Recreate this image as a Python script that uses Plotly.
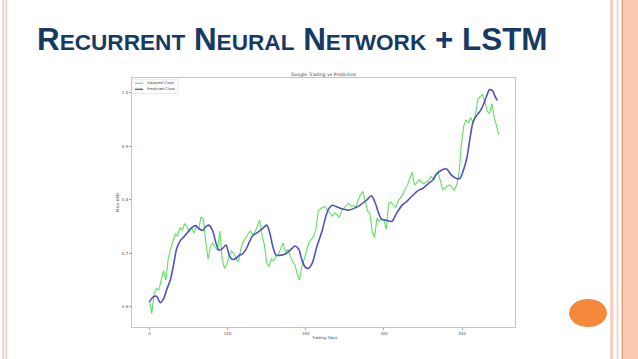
import plotly.graph_objects as go

W, H = 638, 359

# ---------------- data ----------------
green_days = list(range(0, 450, 3))
adjusted_close = [
    0.612, 0.588, 0.625, 0.635, 0.632, 0.652, 0.668, 0.650, 0.690, 0.708,
    0.722, 0.736, 0.733, 0.748, 0.744, 0.756, 0.750, 0.740, 0.748, 0.738,
    0.752, 0.745, 0.768, 0.764, 0.722, 0.690, 0.712, 0.720, 0.712, 0.706,
    0.742, 0.690, 0.672, 0.680, 0.696, 0.705, 0.700, 0.690, 0.684, 0.710,
    0.722, 0.730, 0.736, 0.742, 0.735, 0.740, 0.750, 0.762, 0.735, 0.716,
    0.682, 0.676, 0.690, 0.686, 0.694, 0.698, 0.710, 0.720, 0.702, 0.708,
    0.696, 0.684, 0.680, 0.662, 0.650, 0.676, 0.690, 0.706, 0.720, 0.726,
    0.732, 0.745, 0.780, 0.784, 0.786, 0.788, 0.780, 0.776, 0.770, 0.776,
    0.772, 0.768, 0.780, 0.786, 0.790, 0.794, 0.788, 0.790, 0.786, 0.800,
    0.810, 0.816, 0.798, 0.780, 0.774, 0.740, 0.730, 0.766, 0.760, 0.765,
    0.762, 0.745, 0.794, 0.796, 0.790, 0.786, 0.798, 0.804, 0.810, 0.820,
    0.828, 0.840, 0.852, 0.828, 0.832, 0.838, 0.833, 0.830, 0.834, 0.836,
    0.844, 0.840, 0.848, 0.853, 0.836, 0.820, 0.822, 0.826, 0.828, 0.822,
    0.818, 0.828, 0.850, 0.905, 0.938, 0.950, 0.944, 0.954, 0.944, 0.960,
    0.988, 0.993, 0.997, 0.984, 0.966, 0.962, 0.980, 0.955, 0.940, 0.922,
]

blue_days = [
    0, 5, 9, 14, 18, 22, 27, 31, 35, 40, 44, 48, 53, 59, 63, 68, 72, 76, 81, 85,
    89, 94, 98, 102, 106, 111, 115, 119, 124, 128, 132, 139, 145, 150, 154, 158,
    162, 169, 175, 182, 186, 191, 195, 199, 203, 208, 214, 221, 225, 229, 234,
    240, 247, 255, 264, 270, 278, 284, 289, 293, 297, 303, 310, 316, 323, 329,
    335, 344, 350, 357, 363, 367, 374, 380, 386, 393, 397, 401, 406, 410, 414,
    419, 423, 427, 431, 435, 439, 442, 445,
]
predicted_close = [
    0.610, 0.619, 0.620, 0.608, 0.615, 0.632, 0.652, 0.680, 0.710, 0.725,
    0.731, 0.738, 0.747, 0.752, 0.747, 0.743, 0.750, 0.753, 0.742, 0.720,
    0.706, 0.710, 0.716, 0.697, 0.689, 0.691, 0.697, 0.699, 0.709, 0.722,
    0.733, 0.740, 0.747, 0.753, 0.738, 0.712, 0.697, 0.697, 0.700, 0.709,
    0.714, 0.708, 0.688, 0.675, 0.672, 0.681, 0.712, 0.743, 0.766, 0.783,
    0.790, 0.787, 0.783, 0.781, 0.786, 0.791, 0.800, 0.808, 0.794, 0.776,
    0.764, 0.762, 0.760, 0.775, 0.790, 0.797, 0.806, 0.818, 0.822, 0.831,
    0.838, 0.848, 0.856, 0.858, 0.847, 0.840, 0.840, 0.853, 0.878, 0.915,
    0.946, 0.959, 0.966, 0.978, 0.993, 1.006, 1.004, 0.994, 0.986,
]

x_ticks = [0, 100, 200, 300, 400]
y_ticks = [0.6, 0.7, 0.8, 0.9, 1.0]
y_tick_labels = ["0.6", "0.7", "0.8", "0.9", "1.0"]

series_names = ["Adjusted Close", "Predicted Close"]
series_colors = ["#5fe05f", "#5050c6"]

# ---------------- helpers for slide coordinates ----------------
def px(x):
    return x / W

def py(y):
    return 1 - y / H

GREEN, BLUE = series_colors
NAVY = "#173a64"
CHART_FONT = "DejaVu Sans"

fig = go.Figure()
fig.add_trace(go.Scatter(x=green_days, y=adjusted_close, mode="lines",
                         name=series_names[0],
                         line=dict(color=GREEN, width=1.1), showlegend=False))
fig.add_trace(go.Scatter(x=blue_days, y=predicted_close, mode="lines",
                         name=series_names[1],
                         line=dict(color=BLUE, width=1.6, shape="spline", smoothing=0.8),
                         showlegend=False))

# plot frame (px): left 132, right 515, top 78, bottom 327
fig.update_layout(
    width=W, height=H,
    margin=dict(l=0, r=0, t=0, b=0),
    paper_bgcolor="white", plot_bgcolor="white",
    xaxis=dict(domain=[px(132), px(515)], range=[-22.3, 467.6],
               tickvals=x_ticks, ticktext=[str(v) for v in x_ticks],
               showgrid=False, zeroline=False,
               showline=True, mirror=True, linecolor="#c4c4c4", linewidth=1,
               ticks="outside", ticklen=2, tickcolor="#aaaaaa",
               tickfont=dict(family=CHART_FONT, size=4, color="#555555")),
    yaxis=dict(domain=[py(327), py(78)], range=[0.5626, 1.028],
               tickvals=y_ticks, ticktext=y_tick_labels,
               showgrid=False, zeroline=False,
               showline=True, mirror=True, linecolor="#c4c4c4", linewidth=1,
               ticks="outside", ticklen=2, tickcolor="#aaaaaa",
               tickfont=dict(family=CHART_FONT, size=4, color="#555555")),
)

shapes = []
# left border lines
for x0, x1, c in [(2.5, 4, "#f2c9b6"), (5.5, 7, "#f2c9b6")]:
    shapes.append(dict(type="rect", xref="paper", yref="paper",
                       x0=px(x0), x1=px(x1), y0=0, y1=1,
                       fillcolor=c, line=dict(width=0), layer="above"))
# right border
for x0, x1, c in [(610, 613.5, "#f3d2c4"), (616.5, 618.5, "#f6d8cb"),
                  (621.5, 623, "#e8a27e"), (623, 638, "#fdc8b0")]:
    shapes.append(dict(type="rect", xref="paper", yref="paper",
                       x0=px(x0), x1=px(x1), y0=0, y1=1,
                       fillcolor=c, line=dict(width=0), layer="above"))
# orange circle
shapes.append(dict(type="circle", xref="paper", yref="paper",
                   x0=px(569), x1=px(607), y0=py(327), y1=py(299),
                   fillcolor="#f5883a", line=dict(width=0)))
# legend frame and handles
shapes.append(dict(type="rect", xref="paper", yref="paper",
                   x0=px(133), x1=px(178), y0=py(93.5), y1=py(79.5),
                   fillcolor="rgba(255,255,255,0.8)",
                   line=dict(color="#dddddd", width=0.6)))
shapes.append(dict(type="line", xref="paper", yref="paper",
                   x0=px(135), x1=px(143), y0=py(83.3), y1=py(83.3),
                   line=dict(color=GREEN, width=1.1)))
shapes.append(dict(type="line", xref="paper", yref="paper",
                   x0=px(135), x1=px(143), y0=py(89.3), y1=py(89.3),
                   line=dict(color=BLUE, width=1.3)))
fig.update_layout(shapes=shapes)

small = "font-size:22.6px"
title_html = ("<b>R<span style='%s'>ECURRENT</span> N<span style='%s'>EURAL</span> "
              "N<span style='%s'>ETWORK</span> + LSTM</b>") % (small, small, small)

annotations = [
    dict(text=title_html, xref="paper", yref="paper", x=px(35), y=py(39),
         xanchor="left", yanchor="middle", showarrow=False,
         font=dict(family="Liberation Sans", size=31.4, color=NAVY)),
    dict(text="Google Trading vs Prediction", xref="paper", yref="paper",
         x=px(323.5), y=py(75), xanchor="center", yanchor="middle", showarrow=False,
         font=dict(family=CHART_FONT, size=4.6, color="#444444")),
    dict(text="Trading Days", xref="paper", yref="paper",
         x=px(323.5), y=py(337.5), xanchor="center", yanchor="middle", showarrow=False,
         font=dict(family=CHART_FONT, size=3.9, color="#444444")),
    dict(text="Price USD", xref="paper", yref="paper", textangle=-90,
         x=px(117.5), y=py(202.5), xanchor="center", yanchor="middle", showarrow=False,
         font=dict(family=CHART_FONT, size=3.9, color="#444444")),
    dict(text=series_names[0], xref="paper", yref="paper",
         x=px(145), y=py(83.3), xanchor="left", yanchor="middle", showarrow=False,
         font=dict(family=CHART_FONT, size=3.6, color="#444444")),
    dict(text=series_names[1], xref="paper", yref="paper",
         x=px(145), y=py(89.3), xanchor="left", yanchor="middle", showarrow=False,
         font=dict(family=CHART_FONT, size=3.6, color="#444444")),
]
fig.update_layout(annotations=annotations)

fig.write_html("out.html",
               config={"displayModeBar": False},
               post_script="document.body.style.margin='0';document.body.style.overflow='hidden';")
